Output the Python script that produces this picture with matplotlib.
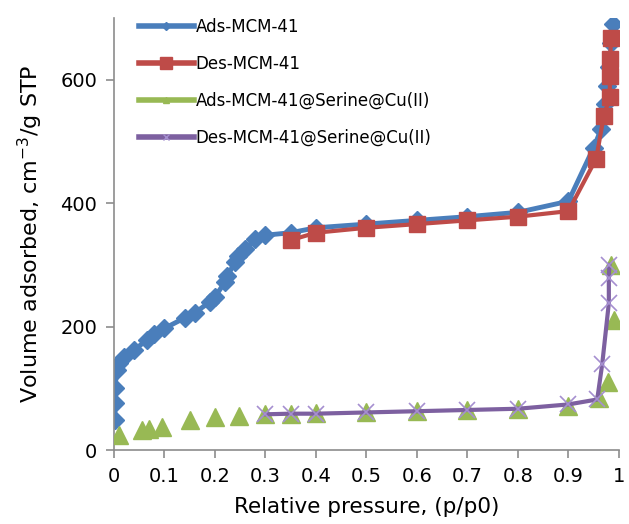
import matplotlib
matplotlib.use("Agg")
import matplotlib.pyplot as plt
from matplotlib.lines import Line2D

# Data
ads_mcm_x = [0.002, 0.002, 0.002, 0.006, 0.01, 0.02, 0.04, 0.065, 0.08, 0.1, 0.14, 0.16, 0.19,
             0.2, 0.22, 0.225, 0.24, 0.245, 0.26, 0.28, 0.3, 0.35, 0.4, 0.5, 0.6, 0.7, 0.8,
             0.9, 0.95, 0.965, 0.972, 0.977, 0.981, 0.985, 0.988]
ads_mcm_y = [49, 76, 100, 130, 141, 150, 162, 178, 188, 197, 214, 222, 240,
             248, 272, 282, 305, 315, 325, 342, 348, 352, 360, 366, 372, 378, 385,
             403, 490, 520, 560, 590, 620, 660, 690]

des_mcm_x = [0.35, 0.4, 0.5, 0.6, 0.7, 0.8, 0.9, 0.955, 0.97, 0.982, 0.982, 0.983, 0.984]
des_mcm_y = [340, 352, 360, 366, 372, 378, 387, 472, 541, 572, 605, 634, 667]

ads_cu_x = [0.01, 0.055, 0.07, 0.095, 0.15, 0.2, 0.247, 0.3, 0.35, 0.4, 0.5, 0.6, 0.7, 0.8,
            0.9, 0.96, 0.978, 0.99, 0.985]
ads_cu_y = [24, 33, 35, 38, 48, 53, 56, 59, 59, 60, 62, 64, 65, 67,
            72, 85, 110, 210, 300]

des_cu_x = [0.3, 0.35, 0.4, 0.5, 0.6, 0.7, 0.8, 0.9, 0.957, 0.967, 0.98, 0.98, 0.981]
des_cu_y = [58, 59, 59, 61, 63, 65, 67, 74, 82, 140, 238, 278, 300]

labels = ["Ads-MCM-41", "Des-MCM-41", "Ads-MCM-41@Serine@Cu(II)", "Des-MCM-41@Serine@Cu(II)"]
x_ticks = [0, 0.1, 0.2, 0.3, 0.4, 0.5, 0.6, 0.7, 0.8, 0.9, 1]
x_tick_labels = ["0", "0.1", "0.2", "0.3", "0.4", "0.5", "0.6", "0.7", "0.8", "0.9", "1"]
y_ticks = [0, 200, 400, 600]

blue = "#4a7ebb"
red = "#be4b48"
green = "#98b954"
purple = "#7d60a0"
light_purple = "#a58fd0"

fig = plt.figure(figsize=(6.29, 5.24), dpi=100)
ax = fig.add_axes([0.181, 0.141, 0.803, 0.825])

ax.plot(ads_mcm_x, ads_mcm_y, color=blue, lw=3.5, marker="D", ms=9, mfc=blue, mec=blue, zorder=2)
ax.plot(des_mcm_x, des_mcm_y, color=red, lw=3.0, marker="s", ms=11, mfc=red, mec=red, zorder=3)
ax.plot(ads_cu_x, ads_cu_y, color=green, lw=0, marker="^", ms=13, mfc=green, mec=green, zorder=4)
ax.plot(des_cu_x, des_cu_y, color=purple, lw=3.0, marker="x", ms=11, mew=1.2, mec=light_purple, zorder=5)

ax.set_xlim(0, 1.0)
ax.set_ylim(0, 700)
ax.set_xticks(x_ticks)
ax.set_xticklabels(x_tick_labels)
ax.set_yticks(y_ticks)
for s in ["top", "right"]:
    ax.spines[s].set_visible(False)
for s in ["left", "bottom"]:
    ax.spines[s].set_color("#8c8c8c")
    ax.spines[s].set_linewidth(1.2)
ax.tick_params(axis="both", direction="out", length=6, width=1.2, color="#8c8c8c",
               labelsize=14, pad=6)

ax.set_xlabel("Relative pressure, (p/p0)", fontsize=15.5, labelpad=8)
ax.set_ylabel("Volume adsorbed, cm$^{-3}$/g STP", fontsize=16, labelpad=11)

handles = [
    Line2D([], [], color=blue, lw=4, marker="D", ms=4),
    Line2D([], [], color=red, lw=4, marker="s", ms=9),
    Line2D([], [], color=green, lw=4, marker="^", ms=5),
    Line2D([], [], color=purple, lw=4, marker="x", ms=5, mec=light_purple),
]
ax.legend(handles, labels, loc="upper left", bbox_to_anchor=(0.02, 1.035), frameon=False,
          fontsize=12, handlelength=3.3, handletextpad=0.1, labelspacing=1.15)

fig.savefig("out.png", dpi=100)
